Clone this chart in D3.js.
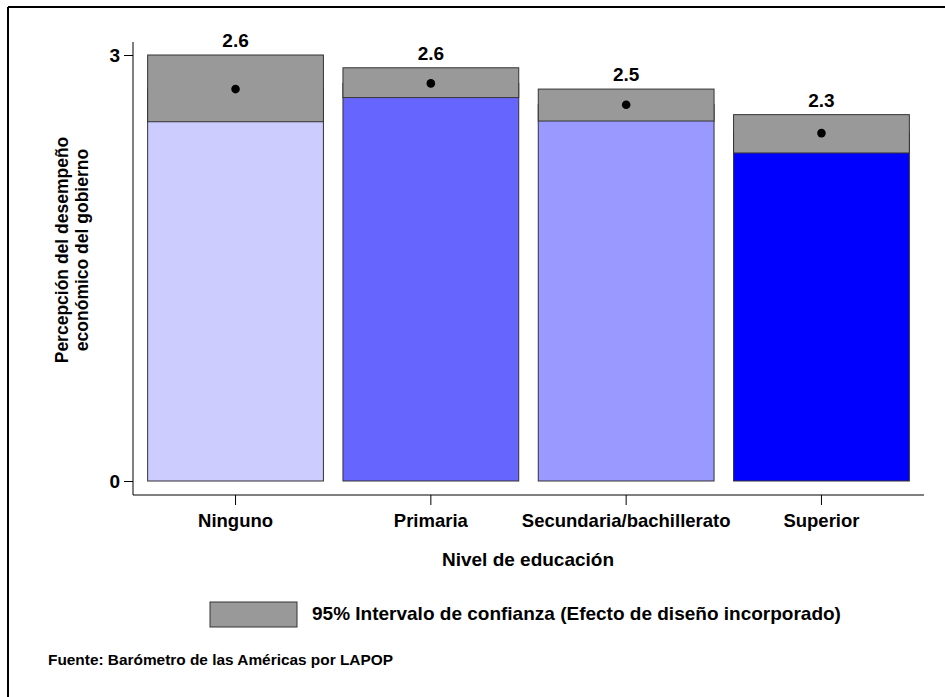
<!DOCTYPE html>
<html>
<head>
<meta charset="utf-8">
<script src="https://cdn.jsdelivr.net/npm/d3@7"></script>
<style>
  html, body { margin: 0; padding: 0; background: #fff; }
  svg { display: block; font-family: "Liberation Sans", Arial, sans-serif; }
  text { font-weight: bold; fill: #000; }
</style>
</head>
<body>
<svg id="chart" width="945" height="697"></svg>
<script>
const categories = ["Ninguno", "Primaria", "Secundaria/bachillerato", "Superior"];
const means = [2.76, 2.80, 2.65, 2.45];
const ciLower = [2.53, 2.70, 2.535, 2.31];
const ciUpper = [3.0, 2.91, 2.76, 2.58];
const meanLabels = ["2.6", "2.6", "2.5", "2.3"];
const barColors = ["#CCCCFF", "#6666FF", "#9999FF", "#0000FF"];
const yTicks = [0, 3];
const yTitle = ["Percepción del desempeño", "económico del gobierno"];
const xTitle = "Nivel de educación";
const legendText = "95% Intervalo de confianza (Efecto de diseño incorporado)";
const sourceText = "Fuente: Barómetro de las Américas por LAPOP";

const FONT = "'Liberation Sans', Arial, sans-serif";
const svg = d3.select("#chart");

// Outer frame (only top and left visible)
svg.append("line").attr("x1", 8).attr("y1", 7).attr("x2", 945).attr("y2", 7)
  .attr("stroke", "#000").attr("stroke-width", 2);
svg.append("line").attr("x1", 8).attr("y1", 7).attr("x2", 8).attr("y2", 697)
  .attr("stroke", "#000").attr("stroke-width", 2);

const y = d3.scaleLinear().domain([0, 3]).range([481, 55]);
const x = d3.scaleBand().domain(categories).range([133, 924])
  .paddingInner(0.1).paddingOuter(0.075);

// Axes lines
svg.append("line").attr("x1", 133).attr("x2", 133).attr("y1", 42).attr("y2", 495)
  .attr("stroke", "#000").attr("stroke-width", 1);
svg.append("line").attr("x1", 133).attr("x2", 924).attr("y1", 495).attr("y2", 495)
  .attr("stroke", "#000").attr("stroke-width", 1);

// Y axis ticks
const yAxis = d3.axisLeft(y).tickValues(yTicks).tickSize(9).tickPadding(4).tickFormat(d3.format("d"));
const gy = svg.append("g").attr("transform", "translate(133,0)").call(yAxis);
gy.select(".domain").remove();
gy.selectAll("text").style("font-size", "19px").style("font-weight", "bold")
  .style("font-family", FONT);

// X axis ticks
const xAxis = d3.axisBottom(x).tickSize(10).tickPadding(9);
const gx = svg.append("g").attr("transform", "translate(0,495)").call(xAxis);
gx.select(".domain").remove();
gx.selectAll("text").style("font-size", "18.5px").style("font-weight", "bold")
  .style("font-family", FONT);

// Bars
svg.selectAll("rect.bar").data(categories).enter().append("rect")
  .attr("class", "bar")
  .attr("x", d => x(d))
  .attr("width", x.bandwidth())
  .attr("y", (d, i) => y(means[i]))
  .attr("height", (d, i) => y(0) - y(means[i]))
  .attr("fill", (d, i) => barColors[i])
  .attr("stroke", "#333").attr("stroke-width", 1);

// CI boxes
svg.selectAll("rect.ci").data(categories).enter().append("rect")
  .attr("class", "ci")
  .attr("x", d => x(d))
  .attr("width", x.bandwidth())
  .attr("y", (d, i) => y(ciUpper[i]))
  .attr("height", (d, i) => y(ciLower[i]) - y(ciUpper[i]))
  .attr("fill", "#999999")
  .attr("stroke", "#333").attr("stroke-width", 1);

// Mean points
svg.selectAll("circle.pt").data(categories).enter().append("circle")
  .attr("cx", d => x(d) + x.bandwidth() / 2)
  .attr("cy", (d, i) => y(means[i]))
  .attr("r", 4.3)
  .attr("fill", "#000");

// Labels
svg.selectAll("text.lbl").data(categories).enter().append("text")
  .attr("x", d => x(d) + x.bandwidth() / 2)
  .attr("y", (d, i) => y(ciUpper[i]) - 8)
  .attr("text-anchor", "middle")
  .style("font-size", "19px")
  .text((d, i) => meanLabels[i]);

// Y title
const yt = svg.append("text")
  .attr("transform", "translate(68,250) rotate(-90)")
  .attr("text-anchor", "middle")
  .style("font-size", "17.5px");
yt.append("tspan").attr("x", 0).attr("dy", 0).text(yTitle[0]);
yt.append("tspan").attr("x", 0).attr("dy", 20).text(yTitle[1]);

// X title
svg.append("text").attr("x", 528).attr("y", 566).attr("text-anchor", "middle")
  .style("font-size", "19px").text(xTitle);

// Legend
svg.append("rect").attr("x", 210).attr("y", 602).attr("width", 87).attr("height", 25)
  .attr("fill", "#999999").attr("stroke", "#333").attr("stroke-width", 1);
svg.append("text").attr("x", 312).attr("y", 620).style("font-size", "19px").text(legendText);

// Source
svg.append("text").attr("x", 48).attr("y", 665).style("font-size", "15.4px").text(sourceText);
</script>
</body>
</html>
